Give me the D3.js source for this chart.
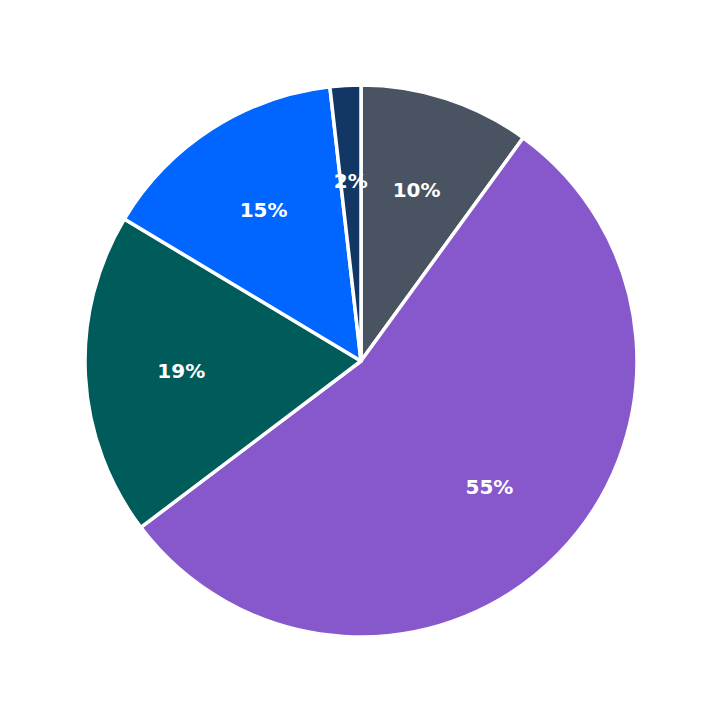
<!DOCTYPE html>
<html><head><meta charset="utf-8">
<script src="https://d3js.org/d3.v7.min.js"></script>
<style>body{margin:0;background:#fff}</style></head>
<body><svg width="723" height="723"></svg>
<script>
const categories = ["A","B","C","D","E"];
const values = [10.0, 54.7, 18.9, 14.6, 1.8];
const labels = ["10%","55%","19%","15%","2%"];
const colors = ["#4a5361","#8757cc","#005c5a","#0066ff","#133765"];
const svg = d3.select("svg");
const g = svg.append("g").attr("transform","translate(361,361)");
const R = 276;
const pie = d3.pie().sort(null).value(d=>d)(values);
const arc = d3.arc().innerRadius(0).outerRadius(R);
const la = d3.arc().innerRadius(180).outerRadius(180);
g.selectAll("path").data(pie).join("path").attr("d",arc)
 .attr("fill",(d,i)=>colors[i]).attr("stroke","#fff").attr("stroke-width",3.5).attr("stroke-linejoin","round");
g.selectAll("text").data(pie).join("text")
 .attr("transform",d=>`translate(${la.centroid(d)})`)
 .attr("text-anchor","middle").attr("dy","0.35em")
 .attr("font-family","DejaVu Sans").attr("font-weight","bold").attr("font-size",20)
 .attr("fill","#fff").text((d,i)=>labels[i]);
</script></body></html>
